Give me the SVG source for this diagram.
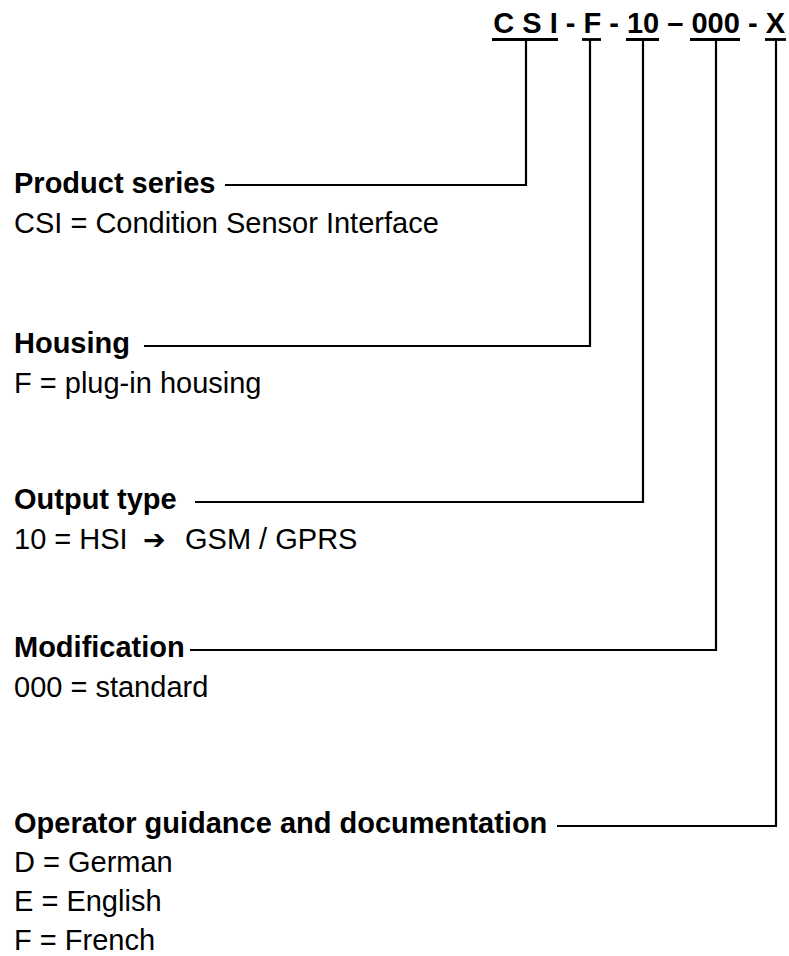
<svg xmlns="http://www.w3.org/2000/svg" width="789" height="956" viewBox="0 0 789 956">
<style>
.b{font-family:"Liberation Sans",Arial,sans-serif;font-weight:bold;font-size:29px;fill:#000}
.n{font-family:"Liberation Sans",Arial,sans-serif;font-size:29px;fill:#000}
.c{fill:none;stroke:#000;stroke-width:2.2}
.u{stroke:#000;stroke-width:2.8}
</style>
<rect width="789" height="956" fill="#fff"/>
<g id="code">
<text class="b" x="785" y="33" text-anchor="end">C S I - F - 10 – 000 - X</text>
<line class="u" x1="492" y1="39.5" x2="558" y2="39.5"/>
<line class="u" x1="582" y1="39.5" x2="601" y2="39.5"/>
<line class="u" x1="626" y1="39.5" x2="659" y2="39.5"/>
<line class="u" x1="690" y1="39.5" x2="740" y2="39.5"/>
<line class="u" x1="765" y1="39.5" x2="786" y2="39.5"/>
</g>
<g id="connectors">
<path class="c" d="M526 40 V185 H225"/>
<path class="c" d="M590 40 V346 H144"/>
<path class="c" d="M643 40 V502 H195"/>
<path class="c" d="M716 40 V650 H190"/>
<path class="c" d="M776 40 V826 H557"/>
</g>
<g id="product-series">
<text class="b" x="14" y="193">Product series</text>
<text class="n" x="14" y="233">CSI = Condition Sensor Interface</text>
</g>
<g id="housing">
<text class="b" x="14" y="353">Housing</text>
<text class="n" x="14" y="393">F = plug-in housing</text>
</g>
<g id="output-type">
<text class="b" x="14" y="509">Output type</text>
<text class="n" x="14" y="549">10 = HSI <tspan x="143" font-family="DejaVu Sans" font-weight="bold" font-size="27">➔</tspan><tspan x="185">GSM / GPRS</tspan></text>
</g>
<g id="modification">
<text class="b" x="14" y="657">Modification</text>
<text class="n" x="14" y="697">000 = standard</text>
</g>
<g id="operator">
<text class="b" x="14" y="833">Operator guidance and documentation</text>
<text class="n" x="14" y="872">D = German</text>
<text class="n" x="14" y="911">E = English</text>
<text class="n" x="14" y="950">F = French</text>
</g>
</svg>
